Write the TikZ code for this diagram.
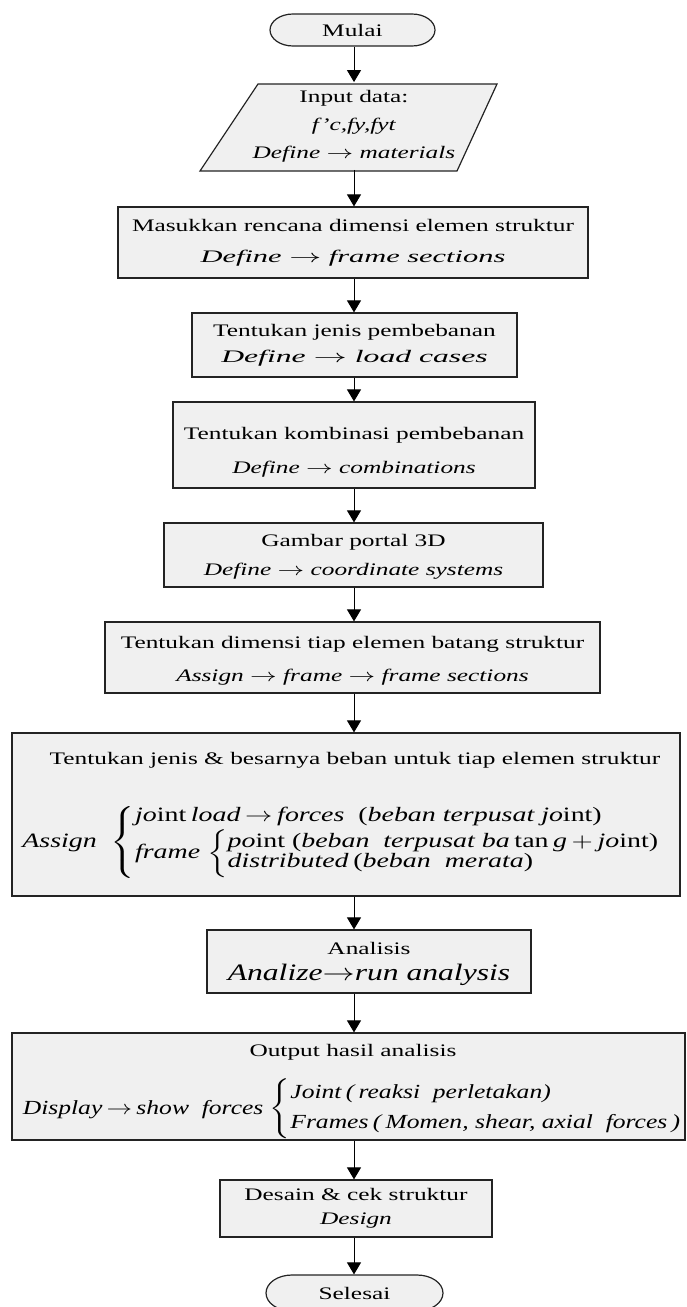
\documentclass[tikz,border=0pt]{standalone}
\usepackage{fontspec}
\setmainfont{Liberation Serif}
\usepackage{graphicx}
\usetikzlibrary{arrows.meta,shapes.misc}
\definecolor{boxfill}{RGB}{240,240,240}
\definecolor{boxline}{RGB}{35,35,35}
% horizontal squeeze/stretch of a piece of text
\newcommand{\hsq}[2]{\scalebox{#1}[1]{#2}}
\begin{document}
\begin{tikzpicture}[x=0.5pt,y=-0.5pt,
  every node/.style={font=\fontsize{8.8pt}{11pt}\selectfont},
  lsp/.style={font=\fontsize{8.8pt}{#1}\selectfont},
  shapeline/.style={draw=boxline, fill=boxfill, line width=0.6pt},
  txt/.style={inner sep=0pt, xscale=1.44, align=center},
  box/.style={shapeline, txt},
  sz/.style 2 args={minimum width={#1*0.34722pt}, minimum height={#2*0.5pt}},
  term/.style={box, rounded rectangle},
  flow/.style={draw=black, line width=0.5pt, -{Triangle[length=6pt,width=7pt]}},
]
\useasboundingbox (0,0) rectangle (686,1307);
\coordinate (spine) at (354,0);

% start terminal
\node[term, sz={165}{32}] (start) at (352.5,30) {Mulai};

% input parallelogram
\draw[shapeline] (258,84) -- (497,84) -- (457,171) -- (200,171) -- cycle;
\node[txt, minimum height=43.5pt, lsp=14pt] (inp) at (354,126)
  {Input data:\\ \textit{f’c,fy,fyt}\\ \textit{Define} $\rightarrow$ \textit{materials}};

% process boxes
\node[box, sz={470}{71}, lsp=15.5pt] (b3) at (353,242.5)
  {Masukkan rencana dimensi elemen struktur\\ \hsq{1.2}{\textit{Define} $\rightarrow$ \textit{frame sections}}};
\node[box, sz={325}{64}, lsp=13pt] (b4) at (354.5,345)
  {Tentukan jenis pembebanan\\ \hsq{1.25}{\textit{Define} $\rightarrow$ \textit{load cases}}};
\node[box, sz={362}{86}, lsp=17pt] (b5) at (354,445)
  {\rule{0pt}{13pt}Tentukan kombinasi pembebanan\\ \textit{Define} $\rightarrow$ \textit{combinations}};
\node[box, sz={379}{64}, lsp=14.5pt] (b6) at (353.5,555)
  {\rule{0pt}{8pt}Gambar portal 3D\\ \textit{Define} $\rightarrow$ \textit{coordinate systems}};
\node[box, sz={495}{71}, lsp=16.5pt] (b7) at (352.5,657.5)
  {\rule{0pt}{9pt}Tentukan dimensi tiap elemen batang struktur\\ \textit{Assign} $\rightarrow$ \textit{frame} $\rightarrow$ \textit{frame sections}};

% load assignment box
\node[box, sz={668}{163}] (b8) at (346,814.5) {};
\node[txt] (b8t) at (355,760) {Tentukan jenis \& besarnya beban untuk tiap elemen struktur};
\node[txt] (b8m) at (343.5,842)
  {\fontsize{10.2pt}{12pt}\selectfont\renewcommand{\arraystretch}{0.85}%
   \hsq{0.95}{\textit{Assign}\enspace$\left\{\begin{tabular}{@{}l@{}}\textit{jo}int\,\textit{load}\,$\rightarrow$\,\textit{forces}\enspace(\textit{beban terpusat jo}int)\\[1pt]
    \textit{frame} $\left\{\begin{tabular}{@{}l@{}}\textit{po}int (\textit{beban\enspace terpusat ba}\,tan\,\textit{g}$\,+\,$\textit{jo}int)\\
    \textit{distributed}\,(\textit{beban\enspace merata})\end{tabular}\right.$\end{tabular}\right.$}};

\node[box, sz={324}{63}] (b9) at (369,961.5)
  {\rule{0pt}{9pt}Analisis\\[2pt]
   {\fontsize{11.8pt}{14pt}\selectfont\hsq{0.93}{\textit{Analize}$\rightarrow$\textit{run analysis}}}};

% output box
\node[box, sz={673}{107}] (b10) at (348.5,1086.5) {};
\node[txt] (b10t) at (353,1052) {Output hasil analisis};
\node[txt] (b10m) at (353,1109)
  {\fontsize{10pt}{12pt}\selectfont\hsq{0.888}{\textit{Display}\,$\rightarrow$\,\textit{show\enspace forces} $\left\{\begin{tabular}{@{}l@{}}\textit{Joint\,(\,reaksi\enspace perletakan)}\\[3pt]
    \textit{Frames\,(\,Momen, shear, axial\enspace forces\,)}\end{tabular}\right.$}};

\node[box, sz={272}{57}, lsp=12pt] (b11) at (356,1208.5)
  {Desain \& cek struktur\\ \textit{Design}};

% end terminal
\node[term, sz={177}{36}] (stop) at (354.5,1293) {Selesai};

% connectors along the main spine
\draw[flow] (start.south -| spine) -- (inp.north -| spine);
\draw[flow] (inp.south -| spine) -- (b3.north -| spine);
\draw[flow] (b3.south -| spine) -- (b4.north -| spine);
\draw[flow] (b4.south -| spine) -- (b5.north -| spine);
\draw[flow] (b5.south -| spine) -- (b6.north -| spine);
\draw[flow] (b6.south -| spine) -- (b7.north -| spine);
\draw[flow] (b7.south -| spine) -- (b8.north -| spine);
\draw[flow] (b8.south -| spine) -- (b9.north -| spine);
\draw[flow] (b9.south -| spine) -- (b10.north -| spine);
\draw[flow] (b10.south -| spine) -- (b11.north -| spine);
\draw[flow] (b11.south -| spine) -- (stop.north -| spine);
\end{tikzpicture}
\end{document}
